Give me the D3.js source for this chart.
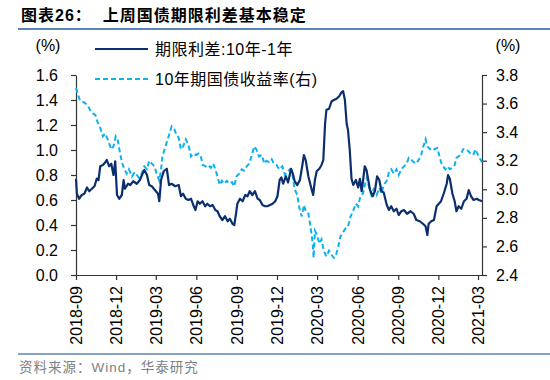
<!DOCTYPE html>
<html>
<head>
    <meta charset="utf-8" />
    <title>期限利差</title>
    <style>
        body { margin: 0; overflow: hidden; background: #fff; }
        svg text { font-family: "Liberation Sans", Arial, "Noto Sans CJK SC", sans-serif; }
    </style>
</head>
<body>
    <div id="chart"></div>
    <script src="https://d3js.org/d3.v7.min.js"></script>
    <script>
        // 期限利差:10年-1年 (left axis)
        var spreadDates = ["2018-09-01","2018-09-03","2018-09-08","2018-09-14","2018-09-20","2018-09-26","2018-10-01","2018-10-07","2018-10-13","2018-10-18","2018-10-22","2018-10-26","2018-11-01","2018-11-06","2018-11-10","2018-11-15","2018-11-20","2018-11-25","2018-11-29","2018-12-03","2018-12-08","2018-12-14","2018-12-18","2018-12-21","2018-12-28","2019-01-02","2019-01-09","2019-01-17","2019-01-24","2019-01-30","2019-02-03","2019-02-09","2019-02-14","2019-02-20","2019-02-27","2019-03-06","2019-03-09","2019-03-13","2019-03-19","2019-03-26","2019-03-31","2019-04-06","2019-04-14","2019-04-22","2019-04-27","2019-05-02","2019-05-08","2019-05-14","2019-05-20","2019-05-25","2019-05-30","2019-06-04","2019-06-09","2019-06-15","2019-06-21","2019-06-26","2019-07-02","2019-07-08","2019-07-14","2019-07-19","2019-07-24","2019-07-30","2019-08-05","2019-08-11","2019-08-16","2019-08-22","2019-08-26","2019-08-30","2019-09-02","2019-09-08","2019-09-14","2019-09-20","2019-09-25","2019-09-30","2019-10-06","2019-10-12","2019-10-18","2019-10-23","2019-10-29","2019-11-04","2019-11-09","2019-11-15","2019-11-21","2019-11-27","2019-12-02","2019-12-07","2019-12-11","2019-12-15","2019-12-21","2019-12-26","2020-01-02","2020-01-06","2020-01-10","2020-01-16","2020-01-22","2020-01-28","2020-01-31","2020-02-04","2020-02-10","2020-02-15","2020-02-21","2020-02-25","2020-02-29","2020-03-06","2020-03-11","2020-03-15","2020-03-19","2020-03-22","2020-03-28","2020-04-03","2020-04-08","2020-04-14","2020-04-20","2020-04-25","2020-04-29","2020-05-03","2020-05-07","2020-05-10","2020-05-14","2020-05-18","2020-05-22","2020-05-28","2020-06-02","2020-06-06","2020-06-10","2020-06-13","2020-06-17","2020-06-21","2020-06-25","2020-06-29","2020-07-05","2020-07-10","2020-07-15","2020-07-20","2020-07-25","2020-07-30","2020-08-06","2020-08-11","2020-08-16","2020-08-22","2020-08-28","2020-09-02","2020-09-08","2020-09-14","2020-09-21","2020-09-29","2020-10-06","2020-10-12","2020-10-20","2020-10-27","2020-11-02","2020-11-06","2020-11-09","2020-11-15","2020-11-21","2020-11-27","2020-12-02","2020-12-07","2020-12-13","2020-12-20","2020-12-23","2020-12-27","2021-01-02","2021-01-07","2021-01-11","2021-01-16","2021-01-22","2021-01-28","2021-02-03","2021-02-08","2021-02-13","2021-02-19","2021-02-26","2021-03-03","2021-03-10"];
        var spreadValues = [0.77,0.65,0.61,0.64,0.65,0.70,0.67,0.69,0.71,0.77,0.76,0.87,0.88,0.90,0.92,0.87,0.89,0.80,0.91,0.64,0.61,0.64,0.76,0.69,0.73,0.72,0.75,0.73,0.76,0.81,0.84,0.80,0.72,0.71,0.68,0.65,0.59,0.76,0.83,0.85,0.72,0.73,0.71,0.72,0.63,0.65,0.61,0.60,0.61,0.56,0.52,0.59,0.57,0.59,0.55,0.57,0.55,0.56,0.52,0.51,0.47,0.44,0.47,0.43,0.45,0.41,0.40,0.49,0.57,0.61,0.59,0.64,0.63,0.67,0.64,0.67,0.61,0.60,0.56,0.55,0.55,0.56,0.57,0.59,0.63,0.76,0.78,0.73,0.79,0.74,0.85,0.81,0.75,0.72,0.76,0.89,0.96,0.92,0.79,0.72,0.64,0.76,0.83,0.85,0.88,0.92,1.21,1.32,1.33,1.39,1.40,1.41,1.43,1.46,1.47,1.40,1.21,1.16,1.00,0.77,0.72,0.76,0.70,0.77,0.67,0.75,0.87,0.84,0.76,0.68,0.63,0.67,0.79,0.76,0.67,0.66,0.56,0.52,0.55,0.51,0.53,0.48,0.51,0.52,0.49,0.51,0.49,0.44,0.43,0.41,0.39,0.32,0.41,0.43,0.44,0.55,0.57,0.59,0.65,0.73,0.80,0.77,0.65,0.59,0.51,0.55,0.53,0.59,0.61,0.68,0.63,0.60,0.61,0.60,0.59];

        // 10年期国债收益率 (right axis)
        var yieldDates = ["2018-09-01","2018-09-05","2018-09-10","2018-09-18","2018-09-23","2018-09-29","2018-10-05","2018-10-10","2018-10-15","2018-10-20","2018-10-26","2018-11-01","2018-11-06","2018-11-12","2018-11-20","2018-11-25","2018-11-30","2018-12-05","2018-12-10","2018-12-15","2018-12-20","2018-12-25","2018-12-30","2019-01-06","2019-01-12","2019-01-17","2019-01-22","2019-01-28","2019-02-03","2019-02-09","2019-02-14","2019-02-20","2019-02-26","2019-03-03","2019-03-09","2019-03-13","2019-03-16","2019-03-21","2019-03-26","2019-03-31","2019-04-06","2019-04-12","2019-04-16","2019-04-22","2019-04-27","2019-05-02","2019-05-08","2019-05-14","2019-05-20","2019-05-25","2019-05-31","2019-06-06","2019-06-11","2019-06-16","2019-06-22","2019-06-28","2019-07-04","2019-07-09","2019-07-14","2019-07-19","2019-07-24","2019-07-29","2019-08-03","2019-08-09","2019-08-14","2019-08-21","2019-08-26","2019-08-31","2019-09-06","2019-09-12","2019-09-17","2019-09-23","2019-09-29","2019-10-05","2019-10-10","2019-10-15","2019-10-21","2019-10-28","2019-11-02","2019-11-07","2019-11-13","2019-11-19","2019-11-24","2019-11-30","2019-12-06","2019-12-13","2019-12-19","2019-12-24","2019-12-30","2020-01-05","2020-01-10","2020-01-16","2020-01-20","2020-01-26","2020-01-31","2020-02-04","2020-02-10","2020-02-15","2020-02-20","2020-02-22","2020-02-25","2020-03-01","2020-03-06","2020-03-11","2020-03-16","2020-03-22","2020-03-28","2020-04-03","2020-04-08","2020-04-12","2020-04-18","2020-04-23","2020-04-29","2020-05-05","2020-05-10","2020-05-16","2020-05-22","2020-05-28","2020-06-02","2020-06-07","2020-06-13","2020-06-18","2020-06-22","2020-06-27","2020-07-02","2020-07-07","2020-07-14","2020-07-20","2020-07-25","2020-07-30","2020-08-06","2020-08-11","2020-08-16","2020-08-22","2020-08-28","2020-09-02","2020-09-08","2020-09-14","2020-09-20","2020-09-25","2020-09-30","2020-10-06","2020-10-12","2020-10-18","2020-10-23","2020-10-27","2020-11-02","2020-11-06","2020-11-12","2020-11-17","2020-11-22","2020-11-28","2020-12-02","2020-12-07","2020-12-12","2020-12-17","2020-12-22","2020-12-27","2021-01-02","2021-01-07","2021-01-11","2021-01-16","2021-01-22","2021-01-26","2021-02-01","2021-02-06","2021-02-12","2021-02-18","2021-02-23","2021-03-01","2021-03-10"];
        var yieldValues = [3.71,3.67,3.62,3.61,3.60,3.58,3.54,3.53,3.52,3.47,3.43,3.37,3.39,3.35,3.28,3.30,3.37,3.34,3.25,3.18,3.14,3.11,3.14,3.09,3.12,3.10,3.08,3.11,3.16,3.14,3.20,3.18,3.16,3.11,3.06,3.14,3.23,3.28,3.33,3.38,3.44,3.42,3.39,3.36,3.28,3.30,3.35,3.31,3.23,3.25,3.24,3.25,3.23,3.17,3.16,3.17,3.15,3.18,3.14,3.09,3.03,3.06,3.04,3.06,3.04,3.05,3.02,3.09,3.11,3.14,3.13,3.16,3.18,3.24,3.30,3.28,3.23,3.24,3.18,3.20,3.19,3.21,3.18,3.17,3.14,3.16,3.10,3.12,3.14,3.10,3.00,2.96,2.88,2.81,2.89,2.85,2.83,2.74,2.62,2.52,2.71,2.68,2.62,2.65,2.57,2.53,2.57,2.54,2.52,2.53,2.60,2.67,2.70,2.73,2.74,2.81,2.85,2.90,2.88,2.95,2.97,3.04,3.08,3.01,2.96,3.00,2.96,3.01,2.97,3.03,3.06,3.12,3.14,3.11,3.14,3.10,3.14,3.16,3.18,3.22,3.21,3.19,3.18,3.21,3.24,3.29,3.35,3.30,3.28,3.29,3.28,3.29,3.25,3.19,3.16,3.14,3.16,3.14,3.15,3.17,3.22,3.23,3.25,3.28,3.28,3.27,3.25,3.24,3.28,3.24,3.19];

        // axis ticks
        var xTickDates = ["2018-09-01","2018-12-01","2019-03-01","2019-06-01","2019-09-01","2019-12-01","2020-03-01","2020-06-01","2020-09-01","2020-12-01","2021-03-01"];
        var leftTicks = [0, 0.2, 0.4, 0.6, 0.8, 1.0, 1.2, 1.4, 1.6];
        var rightTicks = [2.4, 2.6, 2.8, 3.0, 3.2, 3.4, 3.6, 3.8];
        var legendLabels = ["期限利差:10年-1年", "10年期国债收益率(右)"];

        var titleText = "图表26：  上周国债期限利差基本稳定";
        var sourceText = "资料来源：Wind，华泰研究";

        var parse = d3.timeParse("%Y-%m-%d");
        var spread = spreadDates.map((d, i) => ({ date: parse(d), value: spreadValues[i] }));
        var yld = yieldDates.map((d, i) => ({ date: parse(d), value: yieldValues[i] }));

        var width = 550, height = 380;
        var plot = { left: 76, right: 482, top: 75, bottom: 275 };
        var navy = "#0b2f6e", sky = "#0fb0ee", rule = "#5b83b5", axisColor = "#333";

        var svg = d3.select("#chart").append("svg")
            .attr("width", width)
            .attr("height", height);

        var x = d3.scaleTime()
            .domain([parse("2018-09-01"), parse("2021-03-10")])
            .range([plot.left, plot.right]);
        var yLeft = d3.scaleLinear().domain([0, 1.6]).range([plot.bottom, plot.top]);
        var yRight = d3.scaleLinear().domain([2.4, 3.8]).range([plot.bottom, plot.top]);

        // title + rules
        svg.append("text")
            .attr("x", 21).attr("y", 21)
            .style("font-size", "16px")
            .style("font-weight", "bold")
            .style("letter-spacing", "1px")
            .style("white-space", "pre")
            .text(titleText);
        svg.append("line")
            .attr("x1", 18).attr("x2", 550).attr("y1", 29).attr("y2", 29)
            .style("stroke", rule).style("stroke-width", 2);
        svg.append("line")
            .attr("x1", 18).attr("x2", 550).attr("y1", 354).attr("y2", 354)
            .style("stroke", rule).style("stroke-width", 1.5);
        svg.append("text")
            .attr("x", 19).attr("y", 372)
            .style("font-size", "13.5px")
            .style("letter-spacing", "1px")
            .style("fill", "#808080")
            .text(sourceText);

        // axes
        var leftAxis = svg.append("g")
            .attr("transform", `translate(${plot.left},0)`)
            .call(d3.axisLeft(yLeft).tickValues(leftTicks).tickFormat(d3.format(".1f"))
                .tickSize(5).tickSizeOuter(0).tickPadding(13));
        var rightAxis = svg.append("g")
            .attr("transform", `translate(${plot.right},0)`)
            .call(d3.axisRight(yRight).tickValues(rightTicks).tickFormat(d3.format(".1f"))
                .tickSize(5).tickSizeOuter(0).tickPadding(9));
        var bottomAxis = svg.append("g")
            .attr("transform", `translate(0,${plot.bottom})`)
            .call(d3.axisBottom(x).tickValues(xTickDates.map(parse)).tickFormat(d3.timeFormat("%Y-%m"))
                .tickSize(5).tickSizeOuter(0));
        bottomAxis.selectAll("text")
            .attr("transform", "rotate(-90)")
            .attr("x", -11).attr("y", 0).attr("dy", "0.35em")
            .style("text-anchor", "end");

        [leftAxis, rightAxis, bottomAxis].forEach(function (g) {
            g.selectAll("path, line").style("stroke", axisColor).style("stroke-width", 1.2);
            g.selectAll("text").style("font-size", "16px").style("fill", "#000")
                .style("font-family", "'Liberation Sans', Arial, sans-serif");
        });

        // (%) unit labels
        svg.append("text").attr("x", 48).attr("y", 51).style("text-anchor", "middle")
            .style("font-size", "16px").text("(%)");
        svg.append("text").attr("x", 508).attr("y", 51).style("text-anchor", "middle")
            .style("font-size", "16px").text("(%)");

        // lines
        var lineLeft = d3.line().x(d => x(d.date)).y(d => yLeft(d.value));
        var lineRight = d3.line().x(d => x(d.date)).y(d => yRight(d.value));

        svg.append("path")
            .datum(yld)
            .attr("d", lineRight)
            .style("fill", "none")
            .style("stroke", sky)
            .style("stroke-width", 2)
            .style("stroke-dasharray", "5,3");
        svg.append("path")
            .datum(spread)
            .attr("d", lineLeft)
            .style("fill", "none")
            .style("stroke", navy)
            .style("stroke-width", 2.2)
            .style("stroke-linejoin", "round");

        // legend
        var legend = svg.append("g");
        legendLabels.forEach(function (label, i) {
            var ly = 49 + i * 30;
            legend.append("line")
                .attr("x1", 95).attr("x2", 148).attr("y1", ly).attr("y2", ly)
                .style("stroke", i === 0 ? navy : sky)
                .style("stroke-width", i === 0 ? 2.2 : 2)
                .style("stroke-dasharray", i === 0 ? null : "5,3");
            legend.append("text")
                .attr("x", 155).attr("y", ly + 6)
                .style("font-size", "16px")
                .style("letter-spacing", "0.5px")
                .text(label);
        });
    </script>
</body>
</html>
